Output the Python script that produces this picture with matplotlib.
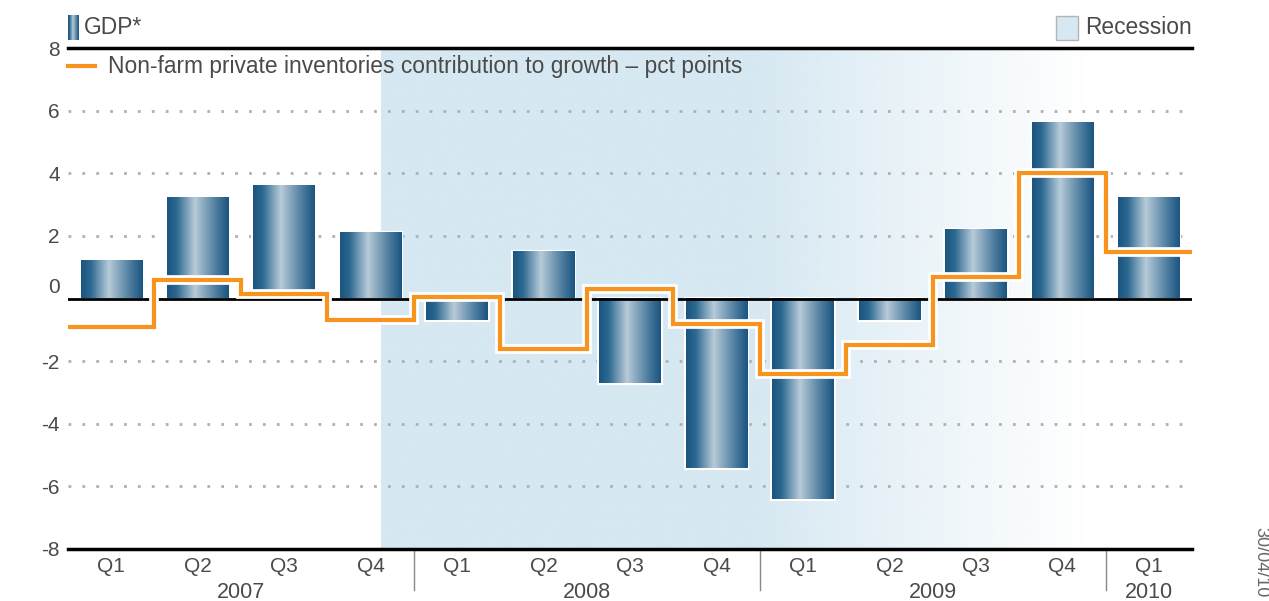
import numpy as np
import matplotlib.pyplot as plt
from matplotlib.colors import LinearSegmentedColormap, to_rgb
from matplotlib.patches import Rectangle
from matplotlib.lines import Line2D
import matplotlib.patheffects as pe

plt.rcParams['font.family'] = ['Liberation Sans', 'DejaVu Sans']

# data
quarters = ['Q1', 'Q2', 'Q3', 'Q4'] * 3 + ['Q1']
years = ['2007', '2008', '2009', '2010']
gdp = [1.2, 3.2, 3.6, 2.1, -0.7, 1.5, -2.7, -5.4, -6.4, -0.7, 2.2, 5.6, 3.2]
inventories = [-0.9, 0.6, 0.13, -0.7, 0.05, -1.6, 0.3, -0.8, -2.4, -1.5, 0.7, 4.0, 1.5]
yticks = [8, 6, 4, 2, 0, -2, -4, -6, -8]
recession_start = 3.12   # ~Dec 2007, in quarter units

W, H = 1269, 601
txt = '#4a4a4a'
orange = '#f7941d'
rec_col = '#d6e8f2'

bar_cmap = LinearSegmentedColormap.from_list('bar', [
    (0.0, '#1b5580'), (0.15, '#2c6891'), (0.45, '#b8cbd8'),
    (0.75, '#5a87a7'), (1.0, '#1b5580')])
grad = np.linspace(0, 1, 64).reshape(1, -1)

fig = plt.figure(figsize=(W / 100, H / 100), dpi=100)
ax = fig.add_axes([68 / W, 52 / H, 1124 / W, 501 / H])

x = np.arange(len(gdp))

# recession shading, fading out towards the right
n = 400
xs = np.linspace(recession_start, 12.5, n)
alpha = np.clip((11.26 - xs) / (11.26 - 7.36), 0, 1)
img = np.zeros((1, n, 4))
img[..., :3] = to_rgb(rec_col)
img[..., 3] = alpha
ax.imshow(img, extent=[recession_start, 12.5, -8, 8], aspect='auto',
          interpolation='bilinear', zorder=0)

for v in [6, 4, 2, -2, -4, -6]:
    ax.axhline(v, color='#b0b0b0', lw=2, ls=(0, (1, 4)), zorder=1)

w = 0.71
for i, v in zip(x, gdp):
    y0, y1 = min(0, v), max(0, v)
    ax.add_patch(Rectangle((i - w / 2, y0), w, y1 - y0, facecolor='none',
                           edgecolor='white', lw=3, zorder=1.9))
    ax.imshow(grad, cmap=bar_cmap, extent=[i - w / 2, i + w / 2, y0, y1],
              aspect='auto', interpolation='bilinear', zorder=2)

ax.axhline(0, color='black', lw=2, zorder=3)

ax.stairs(inventories, np.arange(len(inventories) + 1) - 0.5, baseline=None,
          color=orange, lw=3, zorder=5,
          path_effects=[pe.withStroke(linewidth=7, foreground='white')])

ax.set_xlim(-0.5, 12.5)
ax.set_ylim(-8, 8)

for s in ['left', 'right']:
    ax.spines[s].set_visible(False)
for s in ['top', 'bottom']:
    ax.spines[s].set_linewidth(2.5)

ax.set_yticks(yticks)
ax.set_yticklabels(['' if t == 0 else str(t) for t in yticks])
ax.annotate('0', xy=(0, 0), xycoords=ax.get_yaxis_transform(),
            xytext=(-8, 11), textcoords='offset pixels', ha='right',
            va='center', fontsize=15, color=txt)
ax.set_xticks(x)
ax.set_xticklabels(quarters)
ax.tick_params(axis='both', length=0, labelsize=15, labelcolor=txt)
ax.tick_params(axis='x', pad=6)
ax.tick_params(axis='y', pad=6)

xt = ax.get_xaxis_transform()
year_pos = [1.5, 5.5, 9.5, 12]
for yr, p in zip(years, year_pos):
    ax.text(p, -0.086, yr, transform=xt, ha='center', va='center',
            fontsize=15.5, color=txt)
for b in [3.5, 7.5, 11.5]:
    ax.add_line(Line2D([b, b], [0, -0.082], transform=xt, color='#888888',
                       lw=1, clip_on=False))

# legend
fx = lambda px: px / W
fy = lambda py: 1 - py / H
lax = fig.add_axes([fx(68), fy(40), 11 / W, 25 / H])
lax.imshow(grad, cmap=bar_cmap, aspect='auto')
lax.axis('off')
fig.text(fx(84), fy(28), 'GDP*', ha='left', va='center', fontsize=16.4, color=txt)

fig.add_artist(Rectangle((fx(1056), fy(40)), 22 / W, 24 / H, facecolor=rec_col,
                         edgecolor='#b4b4b4', lw=1, transform=fig.transFigure))
fig.text(fx(1085), fy(28), 'Recession', ha='left', va='center', fontsize=16.4, color=txt)

fig.add_artist(Line2D([fx(68), fx(95)], [fy(66), fy(66)], color=orange, lw=3,
                      transform=fig.transFigure))
fig.text(fx(108), fy(66), 'Non-farm private inventories contribution to growth \u2013 pct points',
         ha='left', va='center', fontsize=16.4, color=txt)

fig.text(fx(1261), fy(527), '30/04/10', rotation=270, ha='center', va='top',
         fontsize=13, color='#666666')

fig.savefig('out.png', dpi=100)
